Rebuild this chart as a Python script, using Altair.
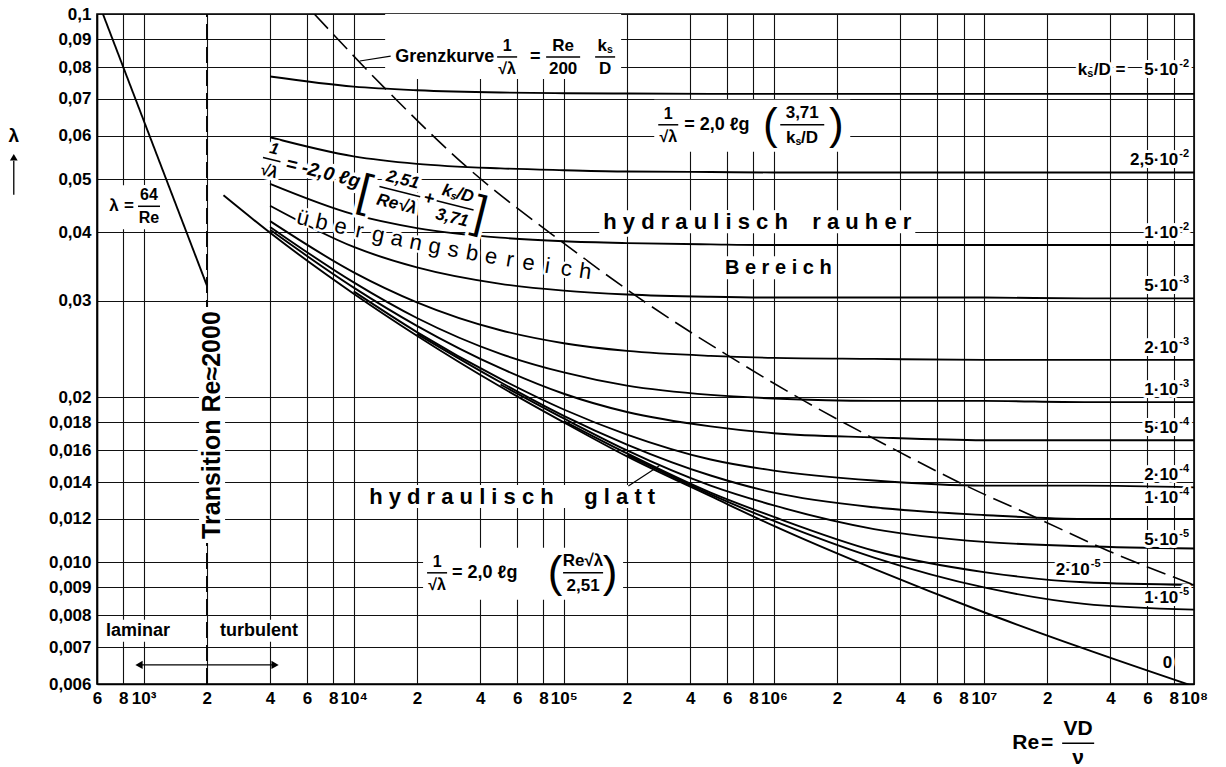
import json
import math
import altair as alt
import pandas as pd

FONT = "Liberation Sans"
NB = "\u00a0"

# ---- axis ticks and their printed labels ----
x_ticks = [600, 800, 1e3, 2e3, 4e3, 6e3, 8e3, 1e4, 2e4, 4e4, 6e4, 8e4, 1e5, 2e5, 4e5, 6e5, 8e5,
           1e6, 2e6, 4e6, 6e6, 8e6, 1e7, 2e7, 4e7, 6e7, 8e7, 1e8]
x_tick_labels = ["6", "8", "10³", "2", "4", "6", "8", "10⁴", "2", "4", "6", "8", "10⁵", "2", "4", "6", "8",
                 "10⁶", "2", "4", "6", "8", "10⁷", "2", "4", "6", "8", "10⁸"]
y_ticks = [0.1, 0.09, 0.08, 0.07, 0.06, 0.05, 0.04, 0.03, 0.02, 0.018, 0.016, 0.014, 0.012,
           0.010, 0.009, 0.008, 0.007, 0.006]
y_tick_labels = ["0,1", "0,09", "0,08", "0,07", "0,06", "0,05", "0,04", "0,03", "0,02", "0,018",
                 "0,016", "0,014", "0,012", "0,010", "0,009", "0,008", "0,007", "0,006"]

# ---- friction factor curves (relative roughness ks/D) ----
re_pts = [4e3, 1e4, 2e4, 5e4, 1e5, 2e5, 5e5, 1e6, 3e6, 1e7, 3e7, 1e8]
rough = {
    "5e-2":   [0.0769, 0.0737, 0.0726, 0.0719, 0.0717, 0.0716, 0.0715, 0.0715, 0.0715, 0.0715, 0.0715, 0.0715],
    "2.5e-2": [0.0596, 0.0550, 0.0533, 0.0523, 0.0519, 0.0516, 0.0515, 0.0514, 0.0514, 0.0514, 0.0514, 0.0514],
    "1e-2":   [0.0490, 0.0431, 0.0407, 0.0391, 0.0385, 0.0382, 0.0380, 0.0379, 0.0379, 0.0379, 0.0379, 0.0379],
    "5e-3":   [0.0447, 0.0376, 0.0345, 0.0322, 0.0313, 0.0308, 0.0305, 0.0304, 0.0304, 0.0304, 0.0303, 0.0303],
    "2e-3":   [0.0419, 0.0338, 0.0298, 0.0265, 0.0251, 0.0243, 0.0238, 0.0236, 0.0235, 0.0234, 0.0234, 0.0234],
    "1e-3":   [0.0409, 0.0324, 0.0279, 0.0240, 0.0222, 0.0210, 0.0202, 0.0199, 0.0197, 0.0197, 0.0196, 0.0196],
    "5e-4":   [0.0404, 0.0317, 0.0270, 0.0226, 0.0203, 0.0188, 0.0177, 0.0172, 0.0169, 0.0167, 0.0167, 0.0167],
    "2e-4":   [0.0401, 0.0312, 0.0263, 0.0216, 0.0190, 0.0171, 0.0154, 0.0147, 0.0141, 0.0138, 0.0138, 0.0137],
    "1e-4":   [0.0400, 0.0310, 0.0261, 0.0213, 0.0185, 0.0164, 0.0144, 0.0134, 0.0126, 0.0122, 0.0120, 0.0120],
    "5e-5":   [0.0400, 0.0310, 0.0260, 0.0211, 0.0183, 0.0160, 0.0138, 0.0127, 0.0115, 0.0109, 0.0107, 0.0106],
    "2e-5":   [0.0399, 0.0309, 0.0259, 0.0210, 0.0181, 0.0158, 0.0134, 0.0121, 0.0105, 0.0096, 0.0092, 0.0091],
    "1e-5":   [0.0399, 0.0309, 0.0259, 0.0209, 0.0181, 0.0157, 0.0133, 0.0119, 0.0102, 0.0090, 0.0084, 0.0082],
}
# the finer roughness curves branch off the smooth-pipe curve further right
curve_start = {"2e-4": 1e4, "1e-4": 2e4, "5e-5": 5e4, "2e-5": 1e5, "1e-5": 2e5}

re_smooth = [2400, 4e3, 1e4, 2e4, 5e4, 1e5, 2e5, 5e5, 1e6, 3e6, 1e7, 3e7, 1e8]
lam_smooth = [0.0467, 0.0399, 0.0309, 0.0259, 0.0209, 0.0180, 0.0156, 0.0132, 0.01165, 0.00973,
              0.00811, 0.00696, 0.00594]

re_laminar = [640, 2000]
lam_laminar = [0.1, 0.032]

re_grenz = [6494, 14960, 34750, 102800, 229600, 653700, 1428000, 3096000, 8537000, 18280000,
            38960000, 100000000]
lam_grenz = [0.1, 0.0715, 0.0525, 0.0379, 0.0303, 0.0234, 0.0196, 0.0167, 0.0137, 0.0120, 0.0105, 0.0091]

# labels written next to each curve at the right edge: (curve, mantissa, exponent)
curve_labels = [("5e-2", "5·10", "-2"), ("2.5e-2", "2,5·10", "-2"), ("1e-2", "1·10", "-2"),
                ("5e-3", "5·10", "-3"), ("2e-3", "2·10", "-3"), ("1e-3", "1·10", "-3"),
                ("5e-4", "5·10", "-4"), ("2e-4", "2·10", "-4"), ("1e-4", "1·10", "-4"),
                ("5e-5", "5·10", "-5"), ("2e-5", "2·10", "-5"), ("1e-5", "1·10", "-5")]

# ---- scales and axes ----
xs = alt.Scale(type="log", domain=[600, 1e8], nice=False)
ys = alt.Scale(type="log", domain=[0.006, 0.1], nice=False)

axis_style = dict(grid=True, gridColor="#111111", gridWidth=1.1, ticks=False, domain=True,
                  domainColor="black", domainWidth=1.6, title=None, labelFont=FONT,
                  labelFontSize=17, labelFontWeight="bold", labelColor="black", labelPadding=6,
                  labelOverlap=False, labelFlush=False, labelBound=False)
x_axis = alt.Axis(
    values=x_ticks,
    labelExpr=f"{json.dumps(x_tick_labels, ensure_ascii=False)}[indexof({json.dumps(x_ticks)}, datum.value)]",
    **axis_style)
y_axis = alt.Axis(
    values=y_ticks,
    labelExpr=f"{json.dumps(y_tick_labels)}[indexof({json.dumps(y_ticks)}, datum.value)]",
    **axis_style)


def X():
    return alt.X("re:Q", scale=xs, axis=x_axis)


def Y():
    return alt.Y("lam:Q", scale=ys, axis=y_axis)


def at(re, lam):
    return pd.DataFrame({"re": [re], "lam": [lam]})


# ---- curve layers ----
rows = []
for key, vals in rough.items():
    first = curve_start.get(key, 0)
    rows += [{"ks": key, "re": r, "lam": v} for r, v in zip(re_pts, vals) if r >= first]
rows += [{"ks": "0", "re": r, "lam": v} for r, v in zip(re_smooth, lam_smooth)]
curves = alt.Chart(pd.DataFrame(rows)).mark_line(
    color="black", strokeWidth=1.9, interpolate="monotone", clip=True
).encode(x=X(), y=Y(), detail="ks:N")

laminar = alt.Chart(pd.DataFrame({"re": re_laminar, "lam": lam_laminar})).mark_line(
    color="black", strokeWidth=1.9, clip=True).encode(x=X(), y=Y())

grenz = alt.Chart(pd.DataFrame({"re": re_grenz, "lam": lam_grenz})).mark_line(
    color="black", strokeWidth=1.6, strokeDash=[20, 8], interpolate="monotone", clip=True
).encode(x=X(), y=Y())

transition = alt.Chart(pd.DataFrame({"re": [2000], "lam": [0.006], "lam2": [0.1]})).mark_rule(
    color="black", strokeWidth=1.6, strokeDash=[16, 7]).encode(x=X(), y=Y(), y2="lam2:Q")

# leader lines from labels to the curves they describe
leader_grenz = alt.Chart(pd.DataFrame({"re": [10700, 15000], "lam": [0.0821, 0.0838]})).mark_line(
    color="black", strokeWidth=1.2).encode(x=X(), y=Y())
leader_glatt = alt.Chart(pd.DataFrame({"re": [2.03e5, 2.85e5], "lam": [0.01378, 0.0150]})).mark_line(
    color="black", strokeWidth=1.2).encode(x=X(), y=Y())

# laminar / turbulent double arrow
arrow_shaft = alt.Chart(pd.DataFrame({"re": [951], "re2": [4224], "lam": [0.0065]})).mark_rule(
    color="black", strokeWidth=1.3).encode(x=X(), x2="re2:Q", y=Y())
arrow_l = alt.Chart(at(951, 0.0065)).mark_point(shape="triangle-left", filled=True, size=70,
                                                 color="black", opacity=1).encode(x=X(), y=Y())
arrow_r = alt.Chart(at(4224, 0.0065)).mark_point(shape="triangle-right", filled=True, size=70,
                                                  color="black", opacity=1).encode(x=X(), y=Y())

# lambda arrow beside the vertical axis
lam_shaft = alt.Chart(pd.DataFrame({"re": [241], "lam": [0.0468], "lam2": [0.0540]})).mark_rule(
    color="black", strokeWidth=1.3).encode(x=X(), y=Y(), y2="lam2:Q")
lam_head = alt.Chart(at(241, 0.0548)).mark_point(shape="triangle-up", filled=True, size=60,
                                                  color="black", opacity=1).encode(x=X(), y=Y())

# ---- text helpers ----
boxes, halos, inks = [], [], []


def box(re, lam, x1, x2, y1, y2):
    """White label background, given as pixel offsets around an anchor."""
    offs = dict(xOffset=x1, x2Offset=x2, yOffset=y1, y2Offset=y2)
    boxes.append(alt.Chart(at(re, lam)).mark_rect(color="white", opacity=1, **offs).encode(
        x=X(), x2=alt.X2("re"), y=Y(), y2=alt.Y2("lam")))


def put(s, re, lam, dx=0, dy=0, size=17, angle=0, align="center", weight="bold",
        style="normal", font=FONT, halo=6):
    props = dict(text=s, dx=dx, dy=dy, fontSize=size, angle=angle, align=align,
                 baseline="middle", fontWeight=weight, fontStyle=style, font=font)
    if halo:
        halos.append(alt.Chart(at(re, lam)).mark_text(
            fill="white", stroke="white", strokeWidth=halo, strokeJoin="round", **props
        ).encode(x=X(), y=Y()))
    inks.append(alt.Chart(at(re, lam)).mark_text(fill="black", **props).encode(x=X(), y=Y()))


def bar(re, lam, dx, dy, width, angle=0, halo=6, sw=1.5):
    """Fraction bar: a short rule offset from the anchor, turned with the formula."""
    a = math.radians(angle)
    ends = [(u * math.cos(a) - dy * math.sin(a), u * math.sin(a) + dy * math.cos(a))
            for u in (dx - width / 2, dx + width / 2)]
    offs = dict(xOffset=ends[0][0], yOffset=ends[0][1], x2Offset=ends[1][0], y2Offset=ends[1][1])
    enc = dict(x=X(), y=Y(), x2=alt.X2("re"), y2=alt.Y2("lam"))
    if halo:
        halos.append(alt.Chart(at(re, lam)).mark_rule(color="white", strokeWidth=halo, **offs).encode(**enc))
    inks.append(alt.Chart(at(re, lam)).mark_rule(color="black", strokeWidth=sw, **offs).encode(**enc))


def ks(re, lam, dx, dy, size=17, angle=0, style="normal", halo=6, tail=""):
    """k with subscript s, optionally followed by '/D', centred on dx."""
    total = (0.9 + (1.0 if tail else 0)) * size
    x0 = dx - total / 2
    put("k", re, lam, dx=x0, dy=dy, size=size, angle=angle, align="left", style=style, halo=halo)
    put("s", re, lam, dx=x0 + 0.556 * size, dy=dy + 0.22 * size, size=0.62 * size, angle=angle,
        align="left", style=style, halo=halo)
    if tail:
        put(tail, re, lam, dx=x0 + 0.88 * size, dy=dy, size=size, angle=angle, align="left",
            style=style, halo=halo)


def frac(num, den, re, lam, dx, width, dy=0, size=17, gap=11, angle=0, style="normal", halo=6):
    for part, off in ((num, -gap), (den, gap + 1)):
        if part == "ks/D":
            ks(re, lam, dx, dy + off, size, angle, style, halo, tail="/D")
        elif part == "ks":
            ks(re, lam, dx, dy + off, size, angle, style, halo)
        else:
            put(part, re, lam, dx=dx, dy=dy + off, size=size, angle=angle, style=style, halo=halo)
    bar(re, lam, dx, dy, width, angle, halo)


def spaced(word):
    return " ".join(word)


# laminar law
A = (852, 0.0446)
box(*A, -24, 36, -21, 23)
put("λ", *A, dx=-15, size=17)
put("=", *A, dx=0, size=17)
frac("64", "Re", *A, dx=20, width=22, size=16)

# transition
T = (2118, 0.0178)
box(*T, -13, 13, -118, 118)
put("Transition Re≈2000", *T, size=25, angle=270, halo=7)
box(940, 0.0075, -35, 35, -11, 11)
put("laminar", 940, 0.0075, size=18)
box(3540, 0.0075, -42, 42, -11, 11)
put("turbulent", 3540, 0.0075, size=18)

# boundary curve label
G = (15750, 0.0835)
box(*G, -10, 226, -43, 22)
put("Grenzkurve", *G, dx=0, align="left", size=18)
frac("1", "√λ", *G, dx=112, width=20, size=16)
put("=", *G, dx=140, size=18)
frac("Re", "200", *G, dx=168, width=34, size=17)
frac("ks", "D", *G, dx=210, width=20, size=17)

# Colebrook formula, written along the curves
C = (5147, 0.05305)
ang = 14
frac("1", "√λ", *C, dx=-22, width=18, size=16, angle=ang, style="italic", halo=7)
put("= -2,0 ℓg", *C, dx=-7, align="left", size=19, angle=ang, style="italic", halo=7)
put("[", *C, dx=76, dy=9, size=46, angle=ang, weight="normal", halo=7)
frac("2,51", "Re√λ", *C, dx=110, width=42, size=17, gap=12, angle=ang, style="italic", halo=7)
put("+", *C, dx=140, size=18, angle=ang, halo=7)
frac("ks/D", "3,71", *C, dx=167, width=38, size=17, gap=12, angle=ang, style="italic", halo=7)
put("]", *C, dx=193, dy=2, size=46, angle=ang, weight="normal", halo=7)

# transition region, lettered along the curves
trans_letters = list("übergangsbereich")
trans_re = [5742, 7058, 8677, 10660, 13100, 16100, 19790, 24310, 29880, 36720, 45120, 55450,
            68140, 83750, 102900, 126500]
trans_lam = [0.04246, 0.04169, 0.04095, 0.04025, 0.03957, 0.03893, 0.03831, 0.03772, 0.03716,
             0.03663, 0.03612, 0.03563, 0.03517, 0.03473, 0.03431, 0.03391]
trans_ang = [13.2, 12.9, 12.6, 12.3, 11.9, 11.6, 11.3, 10.9, 10.6, 10.3, 9.9, 9.6, 9.3, 8.9, 8.6, 8.3]
for ch, r, l, a in zip(trans_letters, trans_re, trans_lam, trans_ang):
    put(ch, r, l, size=22, angle=a, weight="normal", halo=5)

# rough regime
H1 = (8.34e5, 0.0417)
box(*H1, -158, 158, -12, 11)
put(spaced("hydraulisch") + NB * 4 + spaced("rauher"), *H1, size=22)
H2 = (1.05e6, 0.0344)
box(*H2, -55, 55, -12, 11)
put(spaced("Bereich"), *H2, size=20)
R = (4.0e5, 0.0628)
box(*R, -36, 160, -25, 27)
frac("1", "√λ", *R, dx=-22, width=20, size=16)
put("= 2,0 ℓg", *R, dx=-6, align="left", size=18)
put("(", *R, dx=80, dy=1, size=44, weight="normal")
frac("3,71", "ks/D", *R, dx=112, width=44, size=17, gap=12)
put(")", *R, dx=146, dy=1, size=44, weight="normal")

# smooth regime
H3 = (5.68e4, 0.01316)
box(*H3, -154, 154, -12, 11)
put(spaced("hydraulisch") + NB * 5 + spaced("glatt"), *H3, size=22)
S = (3.14e4, 0.00957)
box(*S, -35, 165, -25, 27)
frac("1", "√λ", *S, dx=-21, width=20, size=16)
put("= 2,0 ℓg", *S, dx=-6, align="left", size=18)
put("(", *S, dx=97, dy=1, size=44, weight="normal")
frac("Re√λ", "2,51", *S, dx=125, width=40, size=17, gap=12)
put(")", *S, dx=152, dy=1, size=44, weight="normal")

# curve labels at the right edge
label_dy = {"5e-2": -24, "1e-4": -21, "5e-5": -8}
for key, mant, expo in curve_labels:
    if key == "2e-5":
        r, l = 3.6e7, 0.0092
    else:
        r, l = 9.5e7, rough[key][-1]
    d = label_dy.get(key, -12)
    put(mant, r, l, dx=-11, dy=d, align="right", size=17)
    put(expo, r, l, dx=-10, dy=d - 6, align="left", size=11)
    if key == "5e-2":
        put("/D =", r, l, dx=-64, dy=d, align="right", size=17)
        put("s", r, l, dx=-96, dy=d + 4, align="right", size=11)
        put("k", r, l, dx=-102, dy=d, align="right", size=17)
put("0", 7.47e7, 0.00656, size=17)

# axis captions
put("λ", 241, 0.0600, size=19, halo=0)
E = (2.0e7, 0.00468)
put("Re", *E, dx=-8, align="right", size=21, halo=0)
put("=", *E, dx=0, size=21, halo=0)
frac("VD", "ν", *E, dx=31, width=32, size=21, gap=14, halo=0)

chart = alt.layer(
    curves, laminar, grenz, transition, *boxes, leader_grenz, leader_glatt,
    arrow_shaft, arrow_l, arrow_r, lam_shaft, lam_head, *halos, *inks
).properties(
    width=1097, height=670,
    padding={"left": 97, "top": 14, "right": 32, "bottom": 83},
    autosize=alt.AutoSizeParams(type="none"),
).configure_view(stroke="black", strokeWidth=1.6)

chart.save("out.html", embed_options={"renderer": "svg", "actions": False})
